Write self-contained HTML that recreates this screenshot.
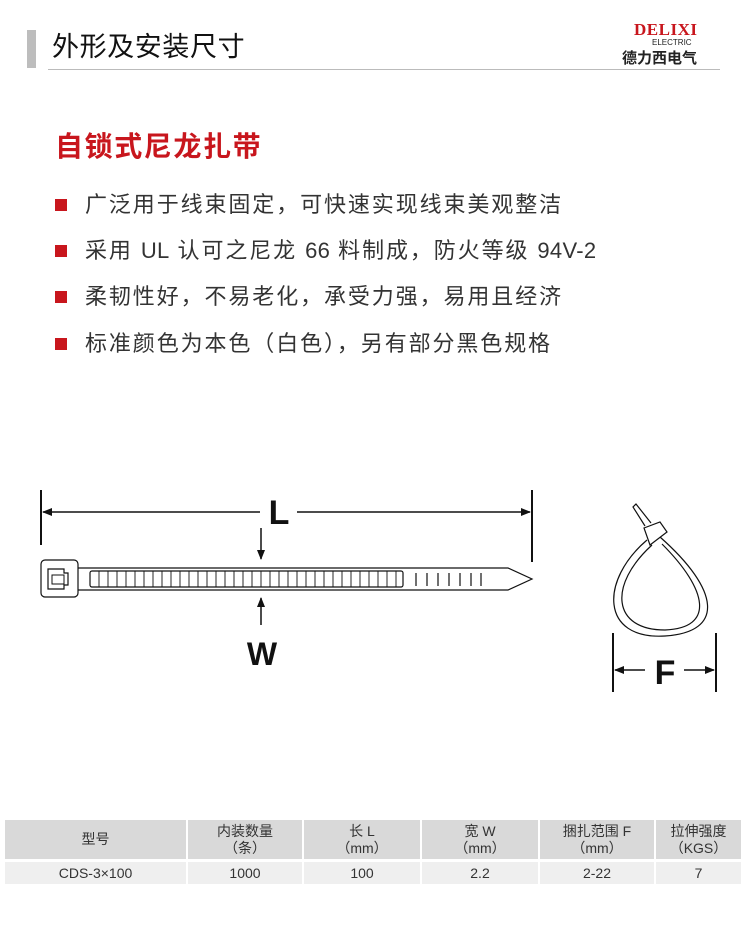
<!DOCTYPE html>
<html><head><meta charset="utf-8"><style>
body{margin:0;width:750px;height:942px;background:#fff;position:relative;font-family:"Liberation Sans","Noto Sans CJK SC",sans-serif;color:#222;overflow:hidden}
.a{position:absolute;white-space:nowrap}
.b{position:absolute;left:55px;width:12px;height:12px;background:#c8161d}
.t{position:absolute;left:85px;font-size:22px;letter-spacing:1.9px;color:#333;line-height:24px}
.t span{letter-spacing:0.3px}
table{position:absolute;left:3px;top:820px;width:740px;table-layout:fixed;border-collapse:separate;border-spacing:2px 0;font-size:14px;color:#333;text-align:center}
td{padding:0;line-height:17px}
.h td{background:#d9d9d9;height:39px}
.d td{background:#efefef;height:22px;border-top:3px solid #fff}
</style></head><body>
<div class="a" style="left:27px;top:30px;width:9px;height:38px;background:#bdbdbd"></div>
<div class="a" style="left:52px;top:30px;font-size:27px;letter-spacing:0.6px;line-height:34px;color:#111">外形及安装尺寸</div>
<div class="a" style="left:48px;top:69px;width:672px;height:1px;background:#bbb"></div>
<div class="a" style="left:634px;top:20px;font-size:17px;font-weight:bold;color:#c8161d;font-family:'Liberation Serif',serif;letter-spacing:0.5px">DELIXI</div>
<div class="a" style="left:652px;top:38px;font-size:8px;color:#222">ELECTRIC</div>
<div class="a" style="left:622px;top:47px;font-size:15px;font-weight:bold;color:#222">德力西电气</div>
<div class="a" style="left:55px;top:130px;font-size:28px;letter-spacing:1.6px;font-weight:bold;color:#c8161d;line-height:34px">自锁式尼龙扎带</div>
<div class="b" style="top:199px"></div><div class="t" style="top:193px">广泛用于线束固定，可快速实现线束美观整洁</div>
<div class="b" style="top:245px"></div><div class="t" style="top:239px">采用 <span>UL</span> 认可之尼龙 <span>66</span> 料制成，防火等级 <span>94V-2</span></div>
<div class="b" style="top:291px"></div><div class="t" style="top:285px">柔韧性好，不易老化，承受力强，易用且经济</div>
<div class="b" style="top:338px"></div><div class="t" style="top:332px">标准颜色为本色（白色），另有部分黑色规格</div>
<svg class="a" style="left:0;top:0" width="750" height="942">
<defs><marker id="ar" markerWidth="10" markerHeight="8" refX="9" refY="4" orient="auto" markerUnits="userSpaceOnUse"><path d="M0,0 L10,4 L0,8z" fill="#111"/></marker></defs>
<g stroke="#111" fill="none">
<line x1="41" y1="490" x2="41" y2="545" stroke-width="2"/>
<line x1="532" y1="490" x2="532" y2="562" stroke-width="2"/>
<line x1="260" y1="512" x2="43" y2="512" stroke-width="1.5" marker-end="url(#ar)"/>
<line x1="297" y1="512" x2="530" y2="512" stroke-width="1.5" marker-end="url(#ar)"/>
<line x1="261" y1="528" x2="261" y2="559" stroke-width="1.5" marker-end="url(#ar)"/>
<line x1="261" y1="625" x2="261" y2="598" stroke-width="1.5" marker-end="url(#ar)"/>
<rect x="41" y="560" width="37" height="37" rx="4" stroke-width="1.2"/>
<path d="M48,569 h16 v4 h4 v12 h-4 v4 h-16z" stroke-width="1.2"/>
<path d="M52,575 h12 v9 h-12z" stroke-width="1"/>
<path d="M78,568 H508 L532,579 L508,590 H78" stroke-width="1.2"/>
<rect x="90" y="571" width="313" height="16" rx="2" stroke-width="1.2"/>
<path d="M99,571v16M108,571v16M117,571v16M126,571v16M135,571v16M144,571v16M153,571v16M162,571v16M171,571v16M180,571v16M189,571v16M198,571v16M207,571v16M216,571v16M225,571v16M234,571v16M243,571v16M252,571v16M261,571v16M270,571v16M279,571v16M288,571v16M297,571v16M306,571v16M315,571v16M324,571v16M333,571v16M342,571v16M351,571v16M360,571v16M369,571v16M378,571v16M387,571v16M396,571v16" stroke-width="0.9"/>
<path d="M416,573v13M427,573v13M438,573v13M449,573v13M460,573v13M471,573v13M481,573v13" stroke-width="1.2"/>
<path d="M647,540 C600,580 600,640 665,636 C725,632 720,590 660,537" stroke-width="1.2"/>
<path d="M652,545 C608,585 612,630 665,630 C715,628 708,590 662,544" stroke-width="1.2"/>
<path d="M644,528 L660,522 L667,532 L650,545z" stroke-width="1.2" fill="#fff"/>
<path d="M645,526 L633,507 L636,504 L651,523" stroke-width="1.2"/>
<line x1="613" y1="633" x2="613" y2="692" stroke-width="2"/>
<line x1="716" y1="633" x2="716" y2="692" stroke-width="2"/>
<line x1="645" y1="670" x2="615" y2="670" stroke-width="1.5" marker-end="url(#ar)"/>
<line x1="684" y1="670" x2="714" y2="670" stroke-width="1.5" marker-end="url(#ar)"/>
</g>
<text x="279" y="524" font-size="34" font-weight="bold" text-anchor="middle" fill="#111" font-family="Liberation Sans">L</text>
<text x="262" y="665" font-size="32" font-weight="bold" text-anchor="middle" fill="#111" font-family="Liberation Sans">W</text>
<text x="665" y="684" font-size="34" font-weight="bold" text-anchor="middle" fill="#111" font-family="Liberation Sans">F</text>
</svg>
<table>
<colgroup><col style="width:181px"><col style="width:114px"><col style="width:116px"><col style="width:116px"><col style="width:114px"><col style="width:85px"></colgroup>
<tr class="h"><td>型号</td><td>内装数量<br>（条）</td><td>长 L<br>（mm）</td><td>宽 W<br>（mm）</td><td>捆扎范围 F<br>（mm）</td><td>拉伸强度<br>（KGS）</td></tr>
<tr class="d"><td>CDS-3×100</td><td>1000</td><td>100</td><td>2.2</td><td>2-22</td><td>7</td></tr>
</table>
</body></html>
